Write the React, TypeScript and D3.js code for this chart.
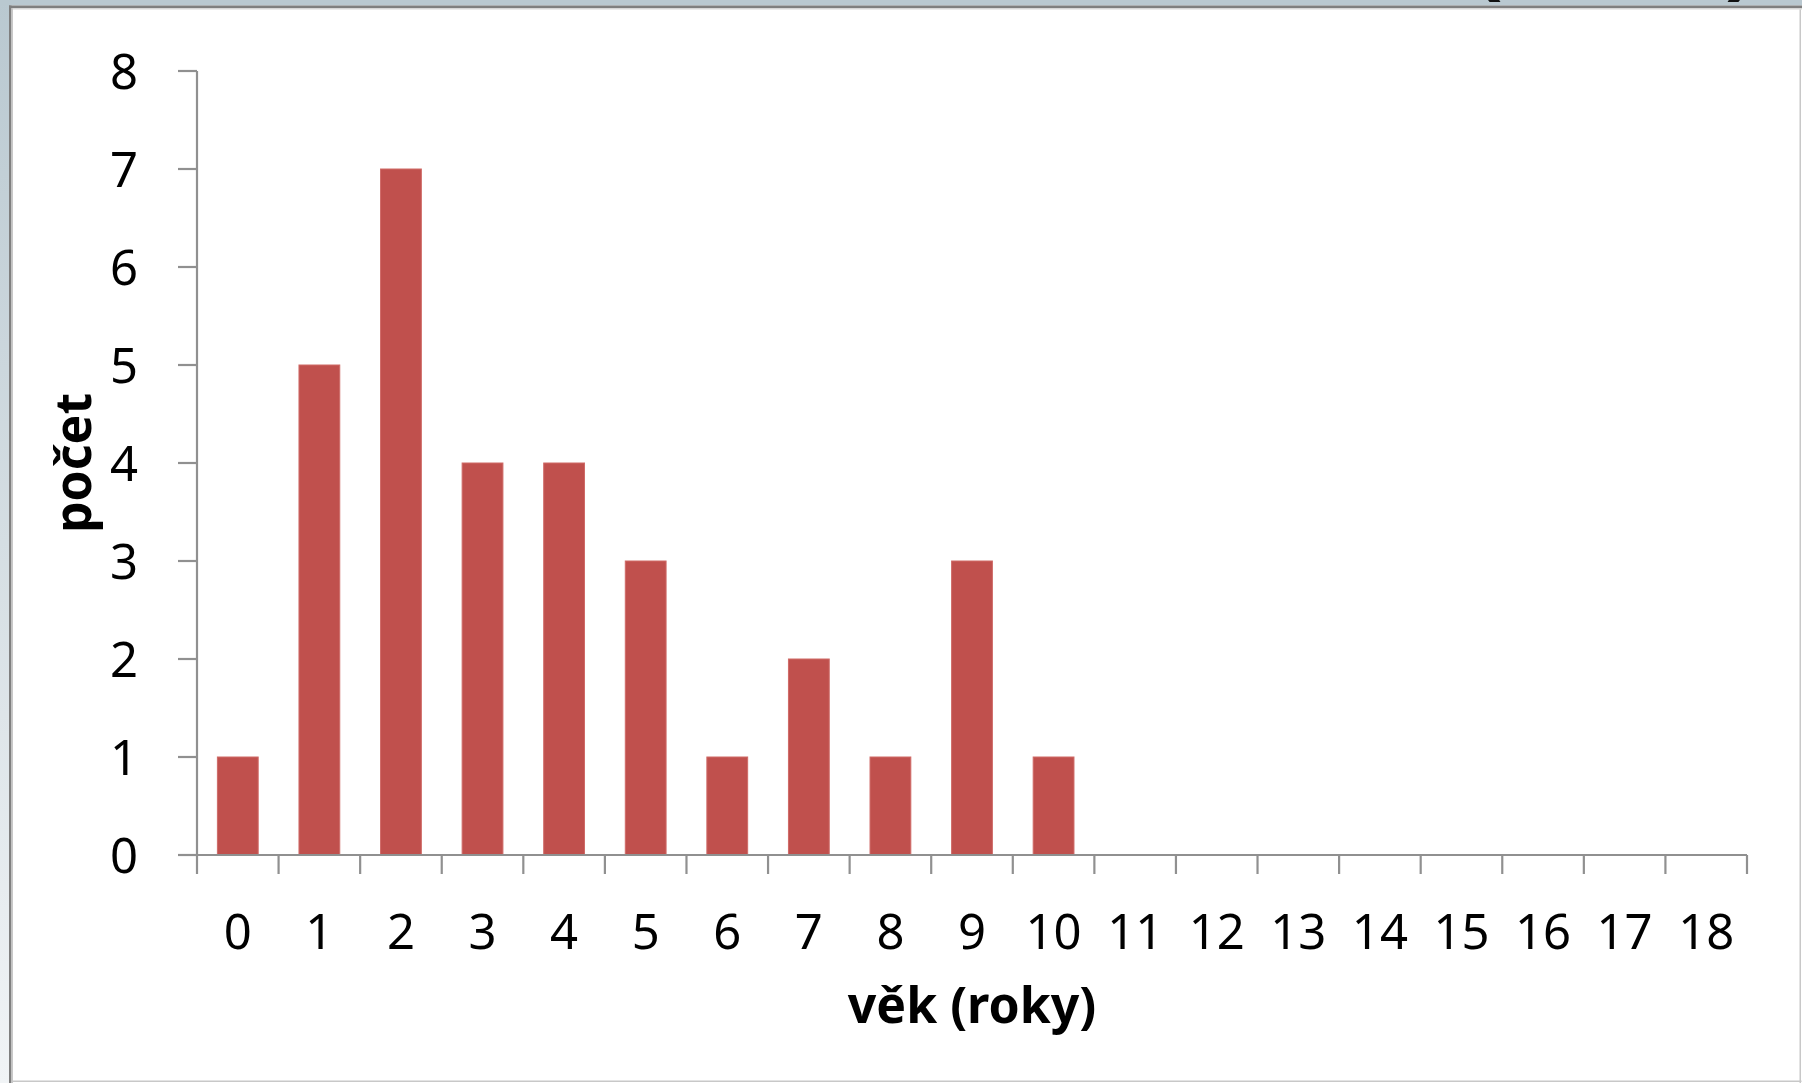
import React from "react";
import * as d3 from "d3";

const ages = ["0","1","2","3","4","5","6","7","8","9","10","11","12","13","14","15","16","17","18"];
const counts = [1, 5, 7, 4, 4, 3, 1, 2, 1, 3, 1, 0, 0, 0, 0, 0, 0, 0, 0];
const yTicks = [0, 1, 2, 3, 4, 5, 6, 7, 8];
const xTitle = "věk (roky)";
const yTitle = "počet";

const W = 1802;
const H = 1083;
const FONT = "'Noto Sans', 'Open Sans', sans-serif";

export default function App() {
  const x = d3.scaleBand<string>().domain(ages).range([197, 1747]).paddingInner(0.5).paddingOuter(0.25);
  const xb = d3.scaleBand<string>().domain(ages).range([197, 1747]);
  const y = d3.scaleLinear().domain([0, 8]).range([855, 71]);
  const axisColor = "#909090";

  return (
    <svg width={W} height={H} style={{ position: "fixed", left: 0, top: 0, display: "block" }}>
      <defs>
        <linearGradient id="leftg" x1="0" y1="0" x2="0" y2="1">
          <stop offset="0" stopColor="#b9c8d0" />
          <stop offset="1" stopColor="#f1f4f6" />
        </linearGradient>
      </defs>
      <rect x={0} y={0} width={W} height={H} fill="#ffffff" />
      <rect x={0} y={0} width={10} height={H} fill="url(#leftg)" />
      <rect x={0} y={0} width={W} height={5.5} fill="#b9c8d0" />
      {/* title fragments cut off at top edge, as in the reference */}
      <text x={588} y={-14} fontFamily={FONT} fontWeight="bold" fontSize={90} textAnchor="middle" fill="#111">,</text>
      <text x={1488} y={-12} fontFamily={FONT} fontWeight="bold" fontSize={90} textAnchor="middle" fill="#111">(</text>
      <text x={1740} y={-12} fontFamily={FONT} fontWeight="bold" fontSize={90} textAnchor="middle" fill="#111">)</text>
      {/* panel frame */}
      <rect x={9} y={5.5} width={W} height={2.5} fill="#7f7f7f" />
      <rect x={9} y={8} width={W} height={1.5} fill="#d6d6d6" />
      <rect x={9} y={5.5} width={2.5} height={H} fill="#7f7f7f" />
      <rect x={11.5} y={8} width={1.5} height={H} fill="#c8c8c8" />
      <rect x={1799.5} y={9.5} width={1.5} height={H} fill="#c8c8c8" />
      <rect x={11.5} y={1080.5} width={1790} height={1.5} fill="#c8c8c8" />

      {/* bars */}
      {ages.map((a, i) =>
        counts[i] > 0 ? (
          <rect
            key={a}
            x={x(a)}
            y={y(counts[i])}
            width={x.bandwidth()}
            height={y(0) - y(counts[i])}
            fill="#c0504d"
            stroke="#cf6a67"
            strokeWidth={1}
          />
        ) : null
      )}

      {/* y axis */}
      <line x1={197} x2={197} y1={y(8)} y2={y(0) + 19} stroke={axisColor} strokeWidth={2.2} />
      {yTicks.map((t) => (
        <g key={t}>
          <line x1={178} x2={197} y1={y(t)} y2={y(t)} stroke={axisColor} strokeWidth={2.2} />
          <text
            x={138}
            y={y(t)}
            dy="0.36em"
            textAnchor="end"
            fontFamily={FONT}
            fontSize={49}
            fill="#000"
          >
            {t}
          </text>
        </g>
      ))}

      {/* x axis */}
      <line x1={197} x2={1747} y1={y(0)} y2={y(0)} stroke={axisColor} strokeWidth={2.2} />
      {ages.map((a) => (
        <line
          key={"t" + a}
          x1={(xb(a) as number) + xb.bandwidth()}
          x2={(xb(a) as number) + xb.bandwidth()}
          y1={y(0)}
          y2={y(0) + 19}
          stroke={axisColor}
          strokeWidth={2.2}
        />
      ))}
      {ages.map((a) => (
        <text
          key={"l" + a}
          x={(xb(a) as number) + xb.bandwidth() / 2}
          y={949}
          textAnchor="middle"
          fontFamily={FONT}
          fontSize={49}
          fill="#000"
        >
          {a}
        </text>
      ))}

      {/* axis titles */}
      <text x={972} y={1023} textAnchor="middle" fontFamily={FONT} fontWeight="bold" fontSize={50} fill="#000">
        {xTitle}
      </text>
      <text
        transform={`translate(91, ${(y(0) + y(8)) / 2}) rotate(-90)`}
        textAnchor="middle"
        fontFamily={FONT}
        fontWeight="bold"
        fontSize={50}
        fill="#000"
      >
        {yTitle}
      </text>
    </svg>
  );
}
